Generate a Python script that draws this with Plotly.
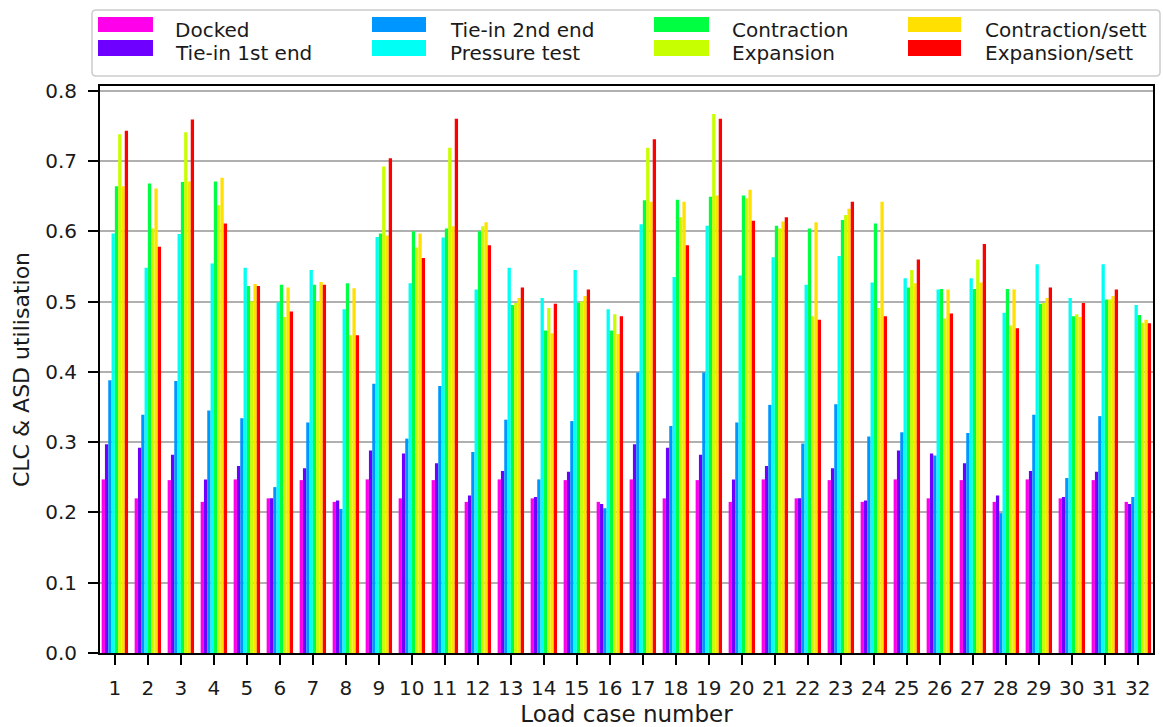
import plotly.graph_objects as go

# Load cases 1..32
load_cases = list(range(1, 33))

series_names = [
    "Docked", "Tie-in 1st end", "Tie-in 2nd end", "Pressure test",
    "Contraction", "Expansion", "Contraction/sett", "Expansion/sett",
]
series_colors = [
    "#ff00ea", "#6e00ff", "#0096ff", "#00fff5",
    "#00ff40", "#c8ff00", "#ffe000", "#ff0000",
]

docked = [0.247, 0.220, 0.246, 0.215, 0.247, 0.220, 0.246, 0.215,
          0.247, 0.220, 0.246, 0.215, 0.247, 0.220, 0.246, 0.215,
          0.247, 0.220, 0.246, 0.215, 0.247, 0.220, 0.246, 0.215,
          0.247, 0.220, 0.246, 0.215, 0.247, 0.220, 0.246, 0.215]
tie_in_1st = [0.297, 0.292, 0.282, 0.247, 0.266, 0.220, 0.263, 0.217,
              0.288, 0.284, 0.270, 0.224, 0.259, 0.222, 0.258, 0.212,
              0.297, 0.292, 0.282, 0.247, 0.266, 0.220, 0.263, 0.217,
              0.288, 0.284, 0.270, 0.224, 0.259, 0.222, 0.258, 0.212]
tie_in_2nd = [0.388, 0.339, 0.387, 0.345, 0.334, 0.236, 0.328, 0.205,
              0.383, 0.305, 0.380, 0.286, 0.332, 0.247, 0.330, 0.206,
              0.399, 0.323, 0.399, 0.328, 0.353, 0.298, 0.354, 0.308,
              0.314, 0.281, 0.313, 0.199, 0.339, 0.249, 0.337, 0.222]
pressure_test = [0.597, 0.548, 0.596, 0.554, 0.548, 0.499, 0.545, 0.489,
                 0.592, 0.526, 0.591, 0.517, 0.548, 0.505, 0.545, 0.489,
                 0.610, 0.535, 0.608, 0.537, 0.563, 0.524, 0.565, 0.527,
                 0.533, 0.517, 0.533, 0.484, 0.553, 0.505, 0.553, 0.495]
contraction = [0.664, 0.668, 0.670, 0.671, 0.522, 0.524, 0.524, 0.526,
               0.597, 0.600, 0.604, 0.600, 0.495, 0.459, 0.498, 0.459,
               0.644, 0.645, 0.649, 0.651, 0.608, 0.604, 0.616, 0.611,
               0.520, 0.518, 0.518, 0.518, 0.497, 0.479, 0.503, 0.481]
expansion = [0.738, 0.604, 0.741, 0.637, 0.500, 0.478, 0.500, 0.452,
             0.692, 0.577, 0.719, 0.607, 0.498, 0.491, 0.500, 0.482,
             0.719, 0.620, 0.767, 0.647, 0.604, 0.479, 0.623, 0.491,
             0.545, 0.476, 0.560, 0.466, 0.498, 0.482, 0.503, 0.470]
contraction_sett = [0.664, 0.661, 0.671, 0.676, 0.525, 0.520, 0.528, 0.519,
                    0.594, 0.597, 0.607, 0.613, 0.505, 0.455, 0.508, 0.454,
                    0.642, 0.642, 0.651, 0.659, 0.614, 0.613, 0.632, 0.642,
                    0.526, 0.517, 0.527, 0.517, 0.505, 0.478, 0.508, 0.474]
expansion_sett = [0.743, 0.578, 0.759, 0.611, 0.522, 0.486, 0.524, 0.452,
                  0.704, 0.562, 0.760, 0.580, 0.520, 0.497, 0.517, 0.479,
                  0.731, 0.580, 0.760, 0.615, 0.620, 0.474, 0.642, 0.479,
                  0.560, 0.483, 0.582, 0.462, 0.520, 0.498, 0.517, 0.469]

series_values = [docked, tie_in_1st, tie_in_2nd, pressure_test,
                 contraction, expansion, contraction_sett, expansion_sett]

y_ticks = [0.0, 0.1, 0.2, 0.3, 0.4, 0.5, 0.6, 0.7, 0.8]

W, H = 1163, 727
M_L, M_R, M_T, M_B = 100, 10, 86, 74
FONT = "DejaVu Sans"
TXT = "#1a1a1a"

fig = go.Figure()
for name, color, vals in zip(series_names, series_colors, series_values):
    fig.add_trace(go.Bar(x=load_cases, y=vals, name=name,
                         marker=dict(color=color, line=dict(width=0)),
                         showlegend=False))

# helpers: pixel position -> paper fraction (plot-area relative)
plot_w = W - M_L - M_R
plot_h = H - M_T - M_B


def px(x):
    return (x - M_L) / plot_w


def py(y):
    return (H - M_B - y) / plot_h


shapes = []
annotations = []

# legend frame with rounded corners
lx0, lx1, ly0, ly1, r = 92, 1160, 10, 76, 4
path = (f"M {px(lx0 + r)},{py(ly0)} L {px(lx1 - r)},{py(ly0)} "
        f"Q {px(lx1)},{py(ly0)} {px(lx1)},{py(ly0 + r)} "
        f"L {px(lx1)},{py(ly1 - r)} Q {px(lx1)},{py(ly1)} {px(lx1 - r)},{py(ly1)} "
        f"L {px(lx0 + r)},{py(ly1)} Q {px(lx0)},{py(ly1)} {px(lx0)},{py(ly1 - r)} "
        f"L {px(lx0)},{py(ly0 + r)} Q {px(lx0)},{py(ly0)} {px(lx0 + r)},{py(ly0)} Z")
shapes.append(dict(type="path", path=path, xref="paper", yref="paper",
                   line=dict(color="#cccccc", width=1.5), fillcolor="white",
                   layer="above"))

# legend is laid out column-wise: 4 columns x 2 rows
patch_x = [(98, 153), (372, 426), (654, 709), (908, 961)]
text_x = [173, 448, 730, 983]
patch_y = [(17, 32), (40, 56)]
text_y = [30, 53]
for i, (name, color) in enumerate(zip(series_names, series_colors)):
    col, row = i // 2, i % 2
    x0, x1 = patch_x[col]
    y0, y1 = patch_y[row]
    shapes.append(dict(type="rect", xref="paper", yref="paper",
                       x0=px(x0), x1=px(x1), y0=py(y1), y1=py(y0),
                       fillcolor=color, line=dict(width=0), layer="above"))
    annotations.append(dict(text=name, xref="paper", yref="paper",
                            x=px(text_x[col]), y=py(text_y[row]),
                            xanchor="left", yanchor="middle", showarrow=False,
                            font=dict(family=FONT, size=20, color=TXT)))

fig.update_layout(
    width=W, height=H,
    margin=dict(l=M_L, r=M_R, t=M_T, b=M_B, pad=0),
    paper_bgcolor="white", plot_bgcolor="white",
    barmode="group", bargap=0.2, bargroupgap=0,
    font=dict(family=FONT, size=19, color=TXT),
    shapes=shapes, annotations=annotations,
    showlegend=False,
)

fig.update_xaxes(
    range=[0.55, 32.46], tickmode="array", tickvals=load_cases,
    ticktext=[str(v) for v in load_cases],
    showgrid=False, zeroline=False,
    showline=True, linecolor="black", linewidth=2, mirror=True,
    ticks="outside", ticklen=10, tickwidth=2, tickcolor="black",
    ticklabelstandoff=6,
    tickfont=dict(family=FONT, size=20, color=TXT),
    title=dict(text="Load case number", standoff=9,
               font=dict(family=FONT, size=23, color=TXT)),
    automargin=False,
)

fig.update_yaxes(
    range=[0, 0.8067], tickmode="array", tickvals=y_ticks,
    ticktext=[f"{v:.1f}" for v in y_ticks],
    showgrid=True, gridcolor="#b0b0b0", gridwidth=1.8, zeroline=False,
    showline=True, linecolor="black", linewidth=2, mirror=True,
    ticks="outside", ticklen=10, tickwidth=2, tickcolor="black",
    ticklabelstandoff=7,
    tickfont=dict(family=FONT, size=20, color=TXT),
    title=dict(text="CLC &amp; ASD utilisation", standoff=9,
               font=dict(family=FONT, size=22, color=TXT)),
    layer="above traces",
    automargin=False,
)

fig.write_html("out.html")
